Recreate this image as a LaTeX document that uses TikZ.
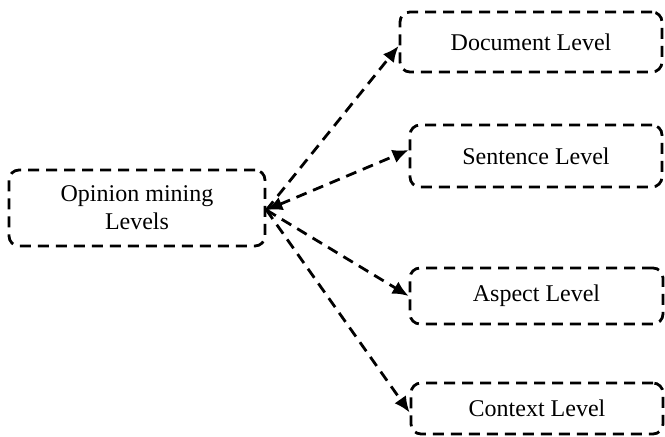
\documentclass[tikz,border=0pt]{standalone}
\usepackage{fontspec}
\setmainfont{Liberation Serif}
\usetikzlibrary{arrows.meta}
\begin{document}
\begin{tikzpicture}[x=0.5pt,y=-0.5pt,
  box/.style={draw, line width=1.4pt, dash pattern=on 5.5pt off 3.5pt, rounded corners=5pt, inner sep=0pt, align=center, font=\fontsize{12}{14}\selectfont},
  conn/.style={line width=1.4pt, dash pattern=on 5.5pt off 3.5pt, -{Latex[length=8pt,width=7pt]}},
  bconn/.style={line width=1.4pt, dash pattern=on 5.5pt off 3.5pt, {Latex[length=8pt,width=7pt]}-{Latex[length=8pt,width=7pt]}}]
\useasboundingbox (0,0) rectangle (665,437);
\node[box, minimum width=128pt, minimum height=38pt] (src) at (137,208) {Opinion mining\\Levels};
\node[box, minimum width=131pt, minimum height=30pt] (doc) at (531,42) {Document Level};
\node[box, minimum width=126pt, minimum height=31pt] (sen) at (536,156) {Sentence Level};
\node[box, minimum width=126.5pt, minimum height=28pt] (asp) at (536.5,296) {Aspect Level};
\node[box, minimum width=126pt, minimum height=25.5pt] (ctx) at (537,408.5) {Context Level};
\draw[conn] ([yshift=-1pt]src.east) -- ([yshift=-2pt]doc.west);
\draw[bconn] ([yshift=-1pt]src.east) -- ([yshift=3pt]sen.west);
\draw[conn] ([yshift=-1pt]src.east) -- (asp.west);
\draw[conn] ([yshift=-1pt]src.east) -- ([yshift=-2pt]ctx.west);
\end{tikzpicture}
\end{document}
